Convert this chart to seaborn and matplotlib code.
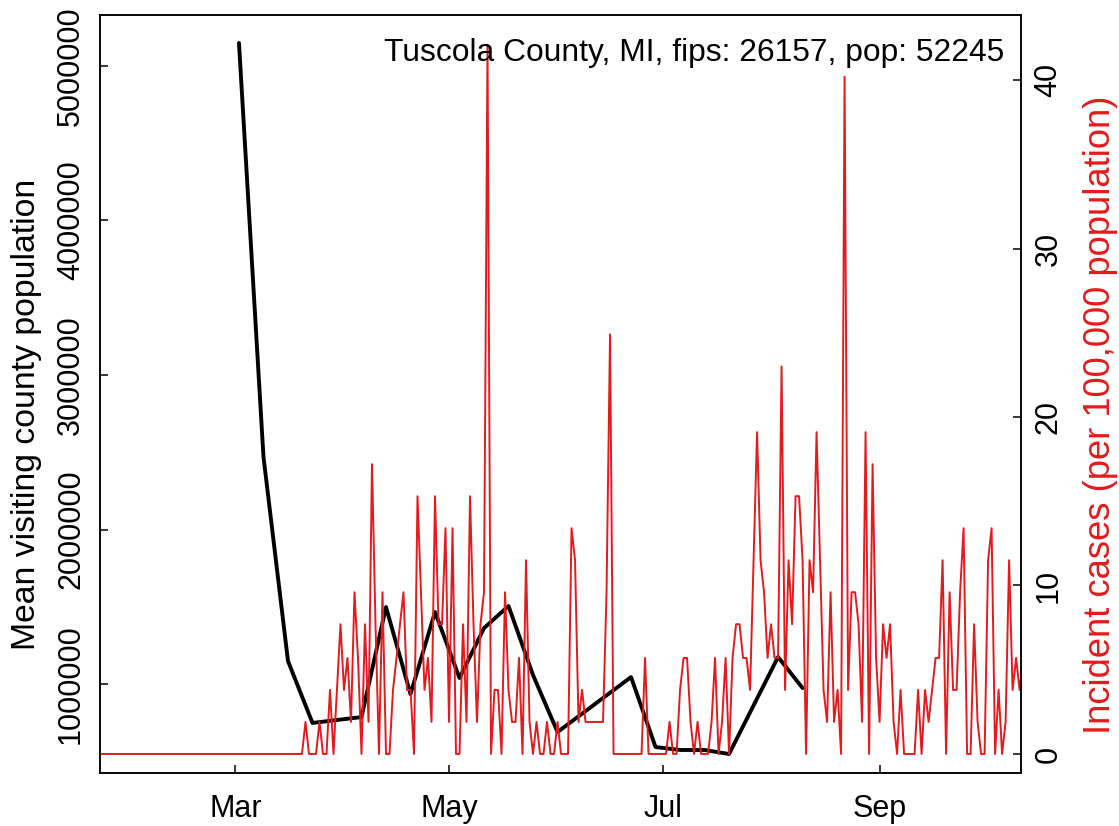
import numpy as np
import pandas as pd
import matplotlib
matplotlib.use("Agg")
import matplotlib.pyplot as plt
import matplotlib.dates as mdates
import seaborn as sns

# ---------------- data ----------------
county_label = "Tuscola County, MI, fips: 26157, pop: 52245"
left_label = "Mean visiting county population"
right_label = "Incident cases (per 100,000 population)"

visit_dates = ["2020-03-02", "2020-03-09", "2020-03-16", "2020-03-23", "2020-04-06",
               "2020-04-13", "2020-04-20", "2020-04-27", "2020-05-04", "2020-05-11",
               "2020-05-18", "2020-05-25", "2020-06-01", "2020-06-22", "2020-06-29",
               "2020-07-06", "2020-07-13", "2020-07-20", "2020-08-03", "2020-08-10"]
visit_pop = [5149000, 2470000, 1149000, 748000, 786000,
             1498000, 935000, 1466000, 1039000, 1362000,
             1505000, 1058000, 689000, 1045000, 592000,
             573000, 573000, 547000, 1175000, 974000]

case_start = "2020-01-22"
incidence = [
    # Jan 22 - Mar 19
    0, 0, 0, 0, 0, 0, 0, 0, 0, 0,
    0, 0, 0, 0, 0, 0, 0, 0, 0, 0,
    0, 0, 0, 0, 0, 0, 0, 0, 0, 0,
    0, 0, 0, 0, 0, 0, 0, 0, 0, 0,
    0, 0, 0, 0, 0, 0, 0, 0, 0, 0,
    0, 0, 0, 0, 0, 0, 0, 0,
    # Mar 20 onwards
    0, 1.9, 0, 0, 0, 1.9, 0, 0, 3.8, 0,
    3.8, 7.7, 3.8, 5.7, 1.9, 9.6, 5.7, 0, 7.7, 1.9,
    17.2, 7.7, 0, 9.6, 0, 0, 3.8, 5.7, 7.7, 9.6,
    3.8, 3.8, 0, 15.3, 9.6, 3.8, 5.7, 1.9, 15.3, 7.7,
    7.7, 13.4, 1.9, 13.4, 0, 0, 7.7, 1.9, 15.3, 7.7,
    1.9, 7.7, 9.6, 42.1, 0, 3.8, 3.8, 0, 9.6, 3.8,
    1.9, 1.9, 5.7, 0, 11.5, 1.9, 0, 1.9, 0, 0,
    1.9, 0, 0, 1.9, 0, 0, 0, 13.4, 11.5, 1.9,
    3.8, 1.9, 1.9, 1.9, 1.9, 1.9, 1.9, 9.6, 24.9, 0,
    0, 0, 0, 0, 0, 0, 0, 0, 5.7, 0,
    0, 0, 0, 0, 0, 1.9, 0, 0, 3.8, 5.7,
    5.7, 1.9, 0, 1.9, 0, 0, 0, 1.9, 5.7, 0,
    1.9, 5.7, 0, 5.7, 7.7, 7.7, 5.7, 5.7, 3.8, 11.5,
    19.1, 11.5, 9.6, 5.7, 7.7, 5.7, 5.7, 23.0, 3.8, 11.5,
    7.7, 15.3, 15.3, 11.5, 0, 11.5, 9.6, 19.1, 11.5, 3.8,
    1.9, 9.6, 1.9, 3.8, 0, 40.2, 3.8, 9.6, 9.6, 7.7,
    1.9, 19.1, 0, 17.2, 5.7, 1.9, 7.7, 5.7, 7.7, 1.9,
    0, 3.8, 0, 0, 0, 0, 3.8, 0, 3.8, 1.9,
    3.8, 5.7, 5.7, 11.5, 0, 9.6, 3.8, 3.8, 9.6, 13.4,
    0, 0, 7.7, 1.9, 0, 0, 11.5, 13.4, 0, 3.8,
    0, 1.9, 11.5, 3.8, 5.7, 3.8, 5.7,
]

x_tick_dates = ["2020-03-01", "2020-05-01", "2020-07-01", "2020-09-01"]
x_tick_labels = ["Mar", "May", "Jul", "Sep"]
left_ticks = [1000000, 2000000, 3000000, 4000000, 5000000]
right_ticks = [0, 10, 20, 30, 40]

# ---------------- style ----------------
sns.set_style("ticks")
plt.rcParams["font.family"] = ["Liberation Sans", "DejaVu Sans"]
for key in ("text.color", "axes.labelcolor", "xtick.color", "ytick.color", "axes.edgecolor"):
    plt.rcParams[key] = "black"
RED = "#E41A1C"
FS = 22

visits = pd.DataFrame({"date": pd.to_datetime(visit_dates), "pop": visit_pop})
cases = pd.DataFrame({"date": pd.date_range(case_start, periods=len(incidence), freq="D"),
                      "inc": incidence})

W, H = 1119, 826
fig = plt.figure(figsize=(W / 100, H / 100), dpi=100)
L, R, T, B = 100, 1021, 15, 773
ax = fig.add_axes([L / W, 1 - B / H, (R - L) / W, (B - T) / H])

sns.lineplot(data=visits, x="date", y="pop", ax=ax, color="black", lw=2.8,
             estimator=None, legend=False)
ax2 = ax.twinx()
sns.lineplot(data=cases, x="date", y="inc", ax=ax2, color=RED, lw=1.4,
             estimator=None, legend=False)

mar1 = mdates.date2num(pd.Timestamp("2020-03-01"))
ax.set_xlim(mar1 - 38.7, mar1 + 224.4)
ax.set_ylim(424000, 5330000)
ax2.set_ylim(-1.13, 43.86)

ax.set_xticks([mdates.date2num(pd.Timestamp(d)) for d in x_tick_dates])
ax.set_xticklabels(x_tick_labels, fontsize=FS)
ax.set_yticks(left_ticks)
ax.set_yticklabels([str(v) for v in left_ticks], fontsize=FS, rotation=90, va="center")
ax2.set_yticks(right_ticks)
ax2.set_yticklabels([str(v) for v in right_ticks], fontsize=FS, rotation=90, va="center")

for a in (ax, ax2):
    for s in a.spines.values():
        s.set_visible(True)
        s.set_linewidth(1.1)
        s.set_color("black")
ax.tick_params(axis="both", direction="in", length=5.8, width=1.1, colors="black")
ax.tick_params(axis="x", pad=15)
ax.tick_params(axis="y", pad=10)
ax2.tick_params(axis="y", direction="in", length=5.8, width=1.1, pad=9, colors="black")

ax.set_xlabel("")
ax.set_ylabel(left_label, fontsize=24.3, rotation=90, ha="center", va="center")
ax.yaxis.set_label_coords((27 - L) / (R - L), (B - 414) / (B - T))
ax2.set_ylabel(right_label, fontsize=26.2, color=RED, rotation=90, ha="center", va="center")
ax2.yaxis.set_label_coords((1100 - L) / (R - L), (B - 415) / (B - T))

fig.text(1004 / W, 1 - 53 / H, county_label, fontsize=22.9, ha="right", va="center")

fig.savefig("out.png", dpi=100)
